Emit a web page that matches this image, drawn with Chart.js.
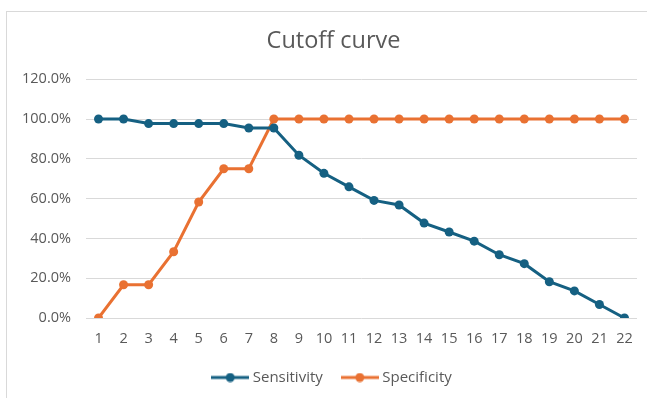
<!DOCTYPE html>
<html>
<head>
<meta charset="utf-8">
<script src="https://cdn.jsdelivr.net/npm/chart.js@4/dist/chart.umd.min.js"></script>
<style>
	html, body { margin: 0; padding: 0; background: #fff; }
	#wrap { position: relative; width: 647px; height: 398px; }
</style>
</head>
<body>
<div id="wrap"><canvas id="chart" width="647" height="398"></canvas></div>
<script>
	const cutoffs = [ '1', '2', '3', '4', '5', '6', '7', '8', '9', '10', '11', '12', '13', '14', '15', '16', '17', '18', '19', '20', '21', '22' ];
	const sensitivity = [ 100, 100, 97.7, 97.7, 97.7, 97.7, 95.5, 95.5, 81.8, 72.7, 65.9, 59.1, 56.8, 47.7, 43.2, 38.6, 31.8, 27.3, 18.2, 13.6, 6.8, 0 ];
	const specificity = [ 0, 16.7, 16.7, 33.3, 58.3, 75, 75, 100, 100, 100, 100, 100, 100, 100, 100, 100, 100, 100, 100, 100, 100, 100 ];

	const BLUE = '#156082';
	const ORANGE = '#E97132';
	const TEXT = '#595959';
	const FONT = '"Open Sans", Roboto, sans-serif';

	// Legend marker: short line with a dot in the middle (wider than the box, so it hugs the text).
	function legendMarker( color ) {
		const c = document.createElement( 'canvas' );
		c.width = 38;
		c.height = 10;
		const ctx = c.getContext( '2d' );
		ctx.strokeStyle = color;
		ctx.lineWidth = 3;
		ctx.beginPath();
		ctx.moveTo( 0, 5 );
		ctx.lineTo( 38, 5 );
		ctx.stroke();
		ctx.fillStyle = color;
		ctx.beginPath();
		ctx.arc( 19, 5, 4.5, 0, Math.PI * 2 );
		ctx.fill();
		return c;
	}

	// Light frame round the chart, and title / legend centred a bit right of the canvas middle.
	const frame = {
		id: 'frame',
		afterLayout( chart ) {
			[ chart.titleBlock, chart.legend ].forEach( ( box ) => {
				box.left += 15;
				box.right += 15;
			} );
		},
		beforeDraw( chart ) {
			const ctx = chart.ctx;
			ctx.save();
			ctx.fillStyle = '#fff';
			ctx.fillRect( 0, 0, chart.width, chart.height );
			ctx.strokeStyle = '#d9d9d9';
			ctx.lineWidth = 1;
			ctx.strokeRect( 6.5, 11.5, 700, 500 );
			ctx.restore();
		},
	};

	const series = ( label, data, color ) => ( {
		label,
		data,
		borderColor: color,
		backgroundColor: color,
		borderWidth: 3,
		pointRadius: 4.5,
		pointHoverRadius: 4.5,
		pointBorderWidth: 0,
		tension: 0,
	} );

	new Chart( document.getElementById( 'chart' ), {
		type: 'line',
		data: {
			labels: cutoffs,
			datasets: [
				series( 'Sensitivity', sensitivity, BLUE ),
				series( 'Specificity', specificity, ORANGE ),
			],
		},
		plugins: [ frame ],
		options: {
			responsive: false,
			animation: false,
			devicePixelRatio: 1,
			layout: { padding: { left: 0, right: 10, top: 0, bottom: 3 } },
			plugins: {
				title: {
					display: true,
					text: 'Cutoff curve',
					color: TEXT,
					font: { family: FONT, size: 23.5, weight: 'normal', lineHeight: 1.2 },
					padding: { top: 27, bottom: 24 },
				},
				legend: {
					position: 'bottom',
					labels: {
						color: TEXT,
						font: { family: FONT, size: 15 },
						usePointStyle: true,
						pointStyleWidth: 30,
						boxHeight: 10,
						padding: 22,
						generateLabels( chart ) {
							return Chart.defaults.plugins.legend.labels.generateLabels( chart ).map( ( item ) => {
								item.pointStyle = legendMarker( item.strokeStyle );
								return item;
							} );
						},
					},
				},
				tooltip: { enabled: false },
			},
			scales: {
				x: {
					offset: true,
					grid: { display: false, drawTicks: false },
					border: { display: false },
					ticks: { color: TEXT, font: { family: FONT, size: 14.5 }, padding: 12, maxRotation: 0, autoSkip: false },
					afterFit( scale ) { scale.height = 30; },
				},
				y: {
					min: 0,
					max: 120,
					grid: { color: '#d9d9d9', drawTicks: false },
					border: { display: false },
					ticks: {
						stepSize: 20,
						color: TEXT,
						font: { family: FONT, size: 14.5 },
						padding: 15,
						callback: ( v ) => v.toFixed( 1 ) + '%',
					},
					afterFit( scale ) { scale.width = 86; },
				},
			},
		},
	} );
</script>
</body>
</html>
